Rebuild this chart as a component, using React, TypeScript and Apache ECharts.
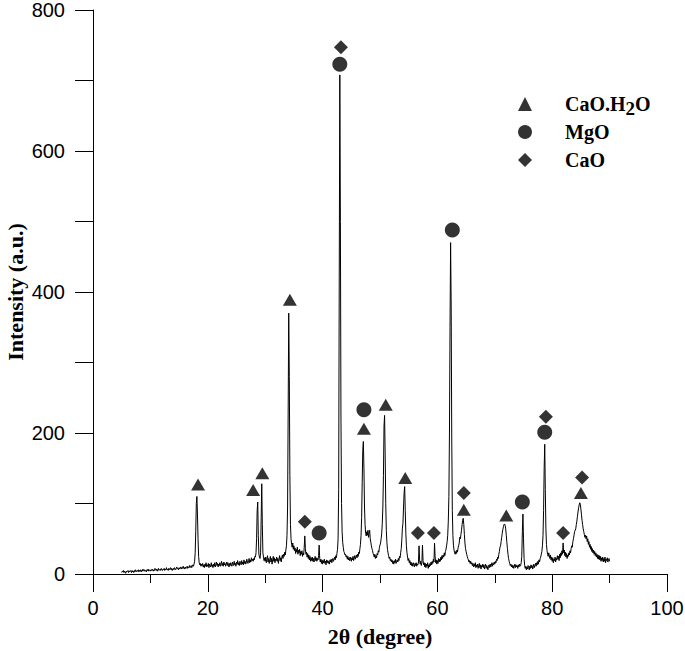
import React, { useEffect, useRef } from "react";
import * as echarts from "echarts";

// XRD scan, recorded at a fixed 0.1° step in 2θ. Each row = one degree (d.0 … d.9).
const STEP = 0.1;

// 2θ = 5.0 … 29.9
const START_LOW = 5.0;
const scanLow: number[] = [
  2, 4, 3, 5, 2, 4, 3, 1, 4, 3,
  3, 5, 2, 4, 3, 5, 4, 2, 5, 3,
  4, 2, 5, 3, 6, 4, 3, 5, 4, 6,
  3, 5, 4, 6, 3, 5, 4, 7, 5, 4,
  6, 4, 5, 3, 6, 5, 7, 4, 6, 5,
  4, 6, 5, 7, 5, 4, 6, 5, 8, 6,
  5, 7, 4, 6, 8, 5, 6, 7, 5, 8,
  6, 5, 7, 6, 8, 5, 7, 6, 9, 6,
  7, 5, 8, 6, 7, 9, 6, 8, 5, 7,
  8, 6, 9, 7, 6, 8, 10, 7, 8, 6,
  9, 7, 8, 10, 7, 9, 8, 11, 8, 9,
  7, 10, 8, 9, 11, 8, 10, 9, 12, 9,
  10, 12, 9, 11, 13, 11, 14, 18, 30, 60,
  100, 110, 85, 50, 25, 16, 13, 15, 11, 14,
  12, 15, 10, 13, 9, 14, 11, 16, 10, 13,
  11, 15, 9, 14, 12, 10, 16, 11, 13, 9,
  14, 11, 16, 10, 13, 17, 12, 15, 10, 14,
  12, 16, 11, 14, 18, 12, 15, 11, 17, 13,
  15, 11, 14, 17, 12, 16, 13, 10, 15, 12,
  16, 13, 11, 17, 14, 12, 18, 13, 15, 11,
  17, 14, 19, 13, 16, 12, 18, 15, 13, 19,
  14, 17, 13, 20, 15, 18, 14, 16, 21, 17,
  15, 19, 22, 16, 20, 17, 23, 19, 21, 18,
  22, 20, 25, 24, 30, 50, 90, 102, 55, 28,
  24, 22, 30, 80, 128, 70, 30, 24, 19, 23,
];

// 2θ = 30.0 … 59.9
const START_MID = 30.0;
const scanMid: number[] = [
  18, 24, 16, 21, 26, 17, 22, 15, 20, 25,
  17, 22, 14, 20, 25, 18, 23, 16, 21, 19,
  24, 18, 22, 15, 21, 26, 19, 23, 17, 24,
  27, 22, 28, 25, 31, 27, 34, 40, 55, 95,
  230, 370, 280, 140, 70, 50, 42, 38, 44, 35,
  40, 33, 37, 29, 35, 31, 38, 28, 34, 30,
  35, 26, 32, 28, 33, 25, 30, 27, 38, 54,
  36, 28, 31, 24, 29, 22, 27, 20, 25, 18,
  23, 19, 24, 18, 22, 17, 21, 25, 19, 23,
  18, 22, 20, 26, 41, 22, 17, 21, 15, 20,
  14, 19, 16, 21, 15, 18, 13, 20, 16, 19,
  15, 18, 14, 20, 17, 21, 16, 19, 22, 18,
  21, 24, 20, 26, 23, 29, 35, 50, 120, 420,
  708, 500, 220, 100, 60, 45, 38, 32, 30, 27,
  28, 24, 26, 21, 25, 20, 23, 19, 24, 21,
  18, 23, 20, 25, 19, 22, 26, 21, 24, 27,
  23, 28, 25, 31, 29, 36, 42, 55, 80, 130,
  175, 188, 150, 95, 70, 58, 54, 60, 55, 62,
  52, 58, 62, 50, 45, 40, 36, 33, 29, 27,
  24, 28, 22, 26, 23, 29, 27, 33, 31, 38,
  38, 44, 50, 58, 72, 95, 140, 210, 225, 170,
  100, 62, 45, 35, 30, 26, 22, 24, 19, 21,
  17, 20, 15, 18, 14, 19, 16, 21, 15, 18,
  20, 17, 22, 19, 25, 23, 30, 36, 48, 65,
  72, 95, 115, 124, 90, 58, 40, 30, 24, 19,
  22, 16, 19, 13, 17, 12, 15, 11, 16, 13,
  10, 15, 12, 16, 11, 14, 13, 17, 40, 20,
  14, 18, 12, 16, 41, 19, 13, 16, 10, 15,
  9, 14, 11, 16, 8, 13, 10, 15, 12, 17,
  13, 18, 15, 21, 17, 44, 25, 16, 20, 14,
];

// 2θ = 60.0 … 90.0
const START_HIGH = 60.0;
const scanHigh: number[] = [
  19, 15, 22, 17, 21, 18, 24, 20, 26, 22,
  27, 24, 30, 26, 32, 35, 40, 46, 55, 75,
  110, 200, 350, 470, 380, 190, 90, 55, 40, 34,
  30, 28, 32, 29, 34, 31, 37, 40, 44, 52,
  50, 56, 62, 70, 76, 79, 70, 56, 44, 36,
  32, 28, 25, 22, 20, 17, 19, 15, 18, 14,
  16, 12, 15, 10, 14, 11, 16, 9, 13, 10,
  14, 8, 12, 15, 9, 13, 7, 12, 10, 14,
  9, 13, 7, 11, 14, 8, 12, 10, 6, 11,
  13, 9, 14, 10, 12, 16, 11, 15, 13, 17,
  14, 18, 16, 21, 19, 24, 22, 28, 32, 38,
  40, 46, 52, 58, 63, 67, 70, 71, 69, 64,
  55, 45, 36, 28, 22, 18, 15, 12, 14, 10,
  13, 9, 12, 8, 11, 14, 9, 13, 10, 12,
  8, 13, 10, 14, 11, 12, 16, 25, 60, 85,
  50, 22, 12, 8, 11, 6, 10, 7, 12, 9,
  6, 11, 8, 13, 9, 12, 7, 10, 14, 9,
  12, 15, 11, 16, 13, 18, 14, 20, 17, 22,
  24, 28, 32, 40, 55, 90, 150, 184, 120, 65,
  42, 33, 28, 25, 30, 26, 22, 27, 20, 24,
  18, 23, 16, 21, 19, 24, 17, 22, 20, 26,
  21, 25, 19, 28, 23, 30, 26, 33, 28, 44,
  30, 34, 26, 31, 24, 29, 22, 27, 25, 30,
  27, 33, 30, 36, 40, 38, 46, 50, 55, 60,
  60, 64, 70, 75, 82, 88, 94, 98, 101, 99,
  92, 84, 76, 70, 64, 60, 56, 52, 55, 50,
  54, 46, 50, 42, 46, 38, 42, 35, 39, 32,
  36, 30, 34, 28, 32, 26, 30, 24, 28, 22,
  27, 21, 26, 20, 25, 18, 23, 19, 24, 17,
  22, 18, 24, 16, 21, 19, 23, 17, 20, 22,
  18,
];

// Phase markers [2θ, marker height]
const caoH2OMarks: [number, number][] = [
  [18.3, 127], [27.9, 119], [29.5, 143], [34.3, 389], [47.2, 206], [51.0, 240], [54.4, 136], [64.6, 91], [72.0, 83], [85.0, 115],
];
const mgoMarks: [number, number][] = [
  [39.4, 58], [43.0, 723], [47.2, 233], [62.6, 488], [74.8, 102], [78.7, 201],
];
const caoMarks: [number, number][] = [
  [36.9, 74], [43.2, 747], [56.6, 58], [59.4, 58], [64.6, 115], [78.9, 223], [81.9, 58], [85.2, 137],
];

const phaseNames = ["CaO.H2O", "MgO", "CaO"];

const SERIF = "'Liberation Serif', 'Times New Roman', Times, serif";
const SANS = "'Liberation Sans', Arial, Helvetica, sans-serif";

function toPairs(start: number, values: number[]): [number, number][] {
  return values.map((v, i) => [Math.round((start + i * STEP) * 100) / 100, v]);
}

export default function App() {
  const ref = useRef<HTMLDivElement>(null);
  useEffect(() => {
    if (!ref.current) return;
    const chart = echarts.init(ref.current, null, { renderer: "svg" });
    const scan = [
      ...toPairs(START_LOW, scanLow),
      ...toPairs(START_MID, scanMid),
      ...toPairs(START_HIGH, scanHigh),
    ];
    chart.setOption({
      animation: false,
      backgroundColor: "#fff",
      grid: { left: 93, right: 18, top: 10, bottom: 77, containLabel: false, outerBoundsMode: "none" },
      legend: {
        data: phaseNames,
        orient: "vertical",
        left: 518,
        top: 90,
        padding: 0,
        itemGap: 0,
        itemWidth: 14,
        itemHeight: 14,
        selectedMode: false,
        formatter: (name: string) =>
          name === "CaO.H2O" ? "{n|CaO.H}{s|2}{n|O}" : "{n|" + name + "}",
        textStyle: {
          color: "#000",
          fontFamily: SERIF,
          fontWeight: "bold",
          fontSize: 20,
          lineHeight: 28,
          padding: [0, 0, 0, 28],
          rich: {
            n: { fontFamily: SERIF, fontWeight: "bold", fontSize: 20, lineHeight: 28, color: "#000" },
            s: { fontFamily: SERIF, fontWeight: "bold", fontSize: 19, lineHeight: 20, padding: [8, 0, 0, 0], color: "#000" },
          },
        },
      },
      xAxis: {
        type: "value",
        min: 0,
        max: 100,
        interval: 20,
        name: "2θ (degree)",
        nameLocation: "middle",
        nameGap: 51,
        nameMoveOverlap: false,
        nameTextStyle: { fontFamily: SERIF, fontWeight: "bold", fontSize: 22, color: "#000" },
        axisLine: { show: true, onZero: false, lineStyle: { color: "#000", width: 1 } },
        axisTick: { show: true, inside: false, length: 18, lineStyle: { color: "#000" } },
        minorTick: { show: true, splitNumber: 2, length: 9, lineStyle: { color: "#000" } },
        axisLabel: { fontFamily: SANS, fontSize: 20, color: "#000", margin: 24 },
        splitLine: { show: false },
      },
      yAxis: {
        type: "value",
        min: 0,
        max: 800,
        interval: 200,
        name: "Intensity (a.u.)",
        nameLocation: "middle",
        nameGap: 66,
        nameMoveOverlap: false,
        nameTextStyle: { fontFamily: SERIF, fontWeight: "bold", fontSize: 22, lineHeight: 24, color: "#000" },
        axisLine: { show: true, lineStyle: { color: "#000", width: 1 } },
        axisTick: { show: true, inside: false, length: 18, lineStyle: { color: "#000" } },
        minorTick: { show: true, splitNumber: 2, length: 18, lineStyle: { color: "#000" } },
        axisLabel: { fontFamily: SANS, fontSize: 20, color: "#000", margin: 28 },
        splitLine: { show: false },
      },
      series: [
        {
          type: "line",
          data: scan,
          showSymbol: false,
          symbol: "none",
          silent: true,
          lineStyle: { color: "#000", width: 1 },
          z: 2,
        },
        {
          name: "CaO.H2O",
          type: "scatter",
          data: caoH2OMarks,
          symbol: "triangle",
          symbolSize: [14, 12],
          itemStyle: { color: "#000" },
          silent: true,
          z: 3,
        },
        {
          name: "MgO",
          type: "scatter",
          data: mgoMarks,
          symbol: "circle",
          symbolSize: 15,
          itemStyle: { color: "#000" },
          silent: true,
          z: 3,
        },
        {
          name: "CaO",
          type: "scatter",
          data: caoMarks,
          symbol: "diamond",
          symbolSize: 14,
          itemStyle: { color: "#000" },
          silent: true,
          z: 3,
        },
      ],
    });
    return () => chart.dispose();
  }, []);
  return (
    <div
      ref={ref}
      style={{ position: "fixed", left: 0, top: 0, width: 685, height: 651, background: "#fff" }}
    />
  );
}
